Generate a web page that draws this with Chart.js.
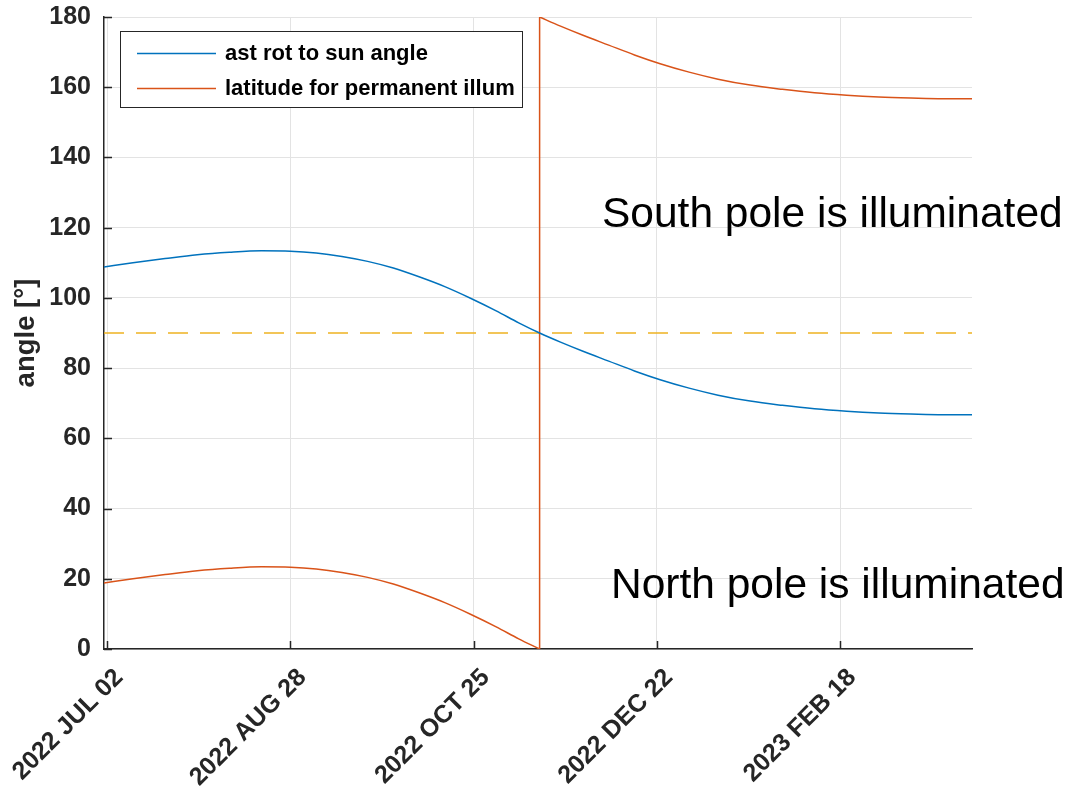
<!DOCTYPE html>
<html><head><meta charset="utf-8">
<script src="https://cdn.jsdelivr.net/npm/chart.js@4.4.0/dist/chart.umd.min.js"></script>
<style>html,body{margin:0;padding:0;background:#fff;}canvas{display:block;}</style>
</head><body>
<canvas id="c" width="1067" height="796"></canvas>
<script>
// ---- data (days since 2022 JUL 02) ----
const days = [-1, 8, 18, 28, 38, 48, 57, 65, 73, 81, 89, 97, 105, 113, 121, 128, 134.5, 134.5,
  141, 148, 156, 164, 172, 181, 190, 200, 210, 220, 230, 240, 250, 260, 269];
const astRotToSun = [108.8, 110.0, 111.2, 112.3, 113.0, 113.4, 113.3, 112.8, 111.8, 110.4, 108.5, 106.0,
  103.2, 99.9, 96.3, 92.9, 90.0, 90.0, 87.4, 84.8, 82.0, 79.2, 76.7, 74.3, 72.3, 70.6, 69.4, 68.4,
  67.7, 67.2, 66.9, 66.7, 66.7];
const latPermIllum = [18.8, 20.0, 21.2, 22.3, 23.0, 23.4, 23.3, 22.8, 21.8, 20.4, 18.5, 16.0,
  13.2, 9.9, 6.3, 2.9, 0.0, 180.0, 177.4, 174.8, 172.0, 169.2, 166.7, 164.3, 162.3, 160.6, 159.4,
  158.4, 157.7, 157.2, 156.9, 156.7, 156.7];
const jumpIndex = 16; // last point before the 0 -> 180 wrap
const refDays = [-1, 269];
const refAngle = [90, 90];
const seriesNames = ['ast rot to sun angle', 'latitude for permanent illum'];
const xTickDays = [0, 57, 114, 171, 228];
const xTickLabels = ['2022 JUL 02', '2022 AUG 28', '2022 OCT 25', '2022 DEC 22', '2023 FEB 18'];
const yTicks = [0, 20, 40, 60, 80, 100, 120, 140, 160, 180];
const annotationTexts = ['South pole is illuminated', 'North pole is illuminated'];
const annotationDays = [153.9, 156.7];
const annotationValues = [123.4, 18.0];

const FONT = "'Liberation Sans', Arial, Helvetica, sans-serif";
const AXC = '#262626';
const COLORS = ['#0072BD', '#D95319', 'rgba(237,177,32,0.75)'];

const toXY = (xs, ys) => xs.map((x, i) => ({x: x, y: ys[i]}));
const blueXY = toXY(days, astRotToSun).filter((p, i) => i !== jumpIndex + 1);
const orangeXY = toXY(days, latPermIllum);
const orangeLow = orangeXY.slice(0, jumpIndex + 1);
const orangeJump = orangeXY.slice(jumpIndex, jumpIndex + 2);
const orangeHigh = orangeXY.slice(jumpIndex + 1);

const inwardTicks = {
  id: 'inwardTicks',
  afterDatasetsDraw(chart) {
    const {ctx, chartArea: a, scales: {x, y}} = chart;
    ctx.save();
    ctx.strokeStyle = AXC; ctx.lineWidth = 1.5;
    ctx.beginPath();
    y.ticks.forEach(t => { const py = Math.round(y.getPixelForValue(t.value)) + 0.5; ctx.moveTo(a.left, py); ctx.lineTo(a.left + 8, py); });
    x.ticks.forEach(t => { const px = Math.round(x.getPixelForValue(t.value)) + 0.5; ctx.moveTo(px, a.bottom); ctx.lineTo(px, a.bottom - 8); });
    ctx.stroke();
    ctx.restore();
  }
};

const annotationsPlugin = {
  id: 'annots',
  afterDatasetsDraw(chart) {
    const {ctx, scales: {x, y}} = chart;
    ctx.save();
    ctx.font = '42.5px ' + FONT;
    ctx.fillStyle = '#000';
    ctx.textAlign = 'left';
    ctx.textBaseline = 'middle';
    annotationTexts.forEach((t, i) => ctx.fillText(t, x.getPixelForValue(annotationDays[i]), y.getPixelForValue(annotationValues[i])));
    ctx.restore();
  }
};

const legendBox = {
  id: 'legendBox',
  afterDraw(chart) {
    const {ctx} = chart;
    ctx.save();
    ctx.fillStyle = '#fff';
    ctx.fillRect(120.5, 31.5, 402, 76);
    ctx.strokeStyle = AXC; ctx.lineWidth = 1;
    ctx.strokeRect(120.5, 31.5, 402, 76);
    const rows = [53, 88];
    ctx.font = 'bold 22px ' + FONT;
    ctx.textBaseline = 'middle';
    ctx.textAlign = 'left';
    seriesNames.forEach((n, i) => {
      ctx.strokeStyle = COLORS[i]; ctx.lineWidth = 1.5;
      ctx.beginPath(); ctx.moveTo(137, rows[i] + 0.5); ctx.lineTo(216, rows[i] + 0.5); ctx.stroke();
      ctx.fillStyle = '#000';
      ctx.fillText(n, 225, rows[i] + 1);
    });
    ctx.restore();
  }
};

const noPad = s => { s.paddingLeft = 0; s.paddingRight = 0; s.paddingTop = 0; s.paddingBottom = 0; };
const lineDs = (label, data, color, extra) => Object.assign({label, data, borderColor: color, borderWidth: 1.5,
  pointRadius: 0, fill: false, cubicInterpolationMode: 'monotone'}, extra || {});

new Chart(document.getElementById('c').getContext('2d'), {
  type: 'line',
  data: {
    datasets: [
      lineDs(seriesNames[0], blueXY, COLORS[0]),
      lineDs(seriesNames[1], orangeLow, COLORS[1]),
      lineDs(seriesNames[1], orangeJump, COLORS[1], {cubicInterpolationMode: 'default', tension: 0}),
      lineDs(seriesNames[1], orangeHigh, COLORS[1]),
      lineDs('ref', toXY(refDays, refAngle), COLORS[2], {borderWidth: 2, borderDash: [20, 12], cubicInterpolationMode: 'default', tension: 0})
    ]
  },
  options: {
    responsive: false, animation: false, devicePixelRatio: 1,
    layout: {padding: {top: 17, right: 95, left: 0, bottom: 0}},
    plugins: {legend: {display: false}, tooltip: {enabled: false}},
    scales: {
      x: {
        type: 'linear', min: -1, max: 269,
        afterBuildTicks: s => { s.ticks = xTickDays.map(v => ({value: v})); },
        afterFit: s => { s.height = 147; noPad(s); },
        grid: {color: '#e3e3e3', lineWidth: 1, drawTicks: false},
        border: {color: AXC, width: 1.5},
        ticks: {autoSkip: false, minRotation: 45, maxRotation: 45, padding: 14, labelOffset: 12, color: AXC,
          font: {family: FONT, size: 25, weight: 'bold'},
          callback: (v, i) => xTickLabels[i]}
      },
      y: {
        min: 0, max: 180,
        afterBuildTicks: s => { s.ticks = yTicks.map(v => ({value: v})); },
        afterFit: s => { s.width = 104; noPad(s); },
        grid: {color: '#e3e3e3', lineWidth: 1, drawTicks: false},
        border: {color: AXC, width: 1.5},
        ticks: {padding: 13, color: AXC, font: {family: FONT, size: 25, weight: 'bold'}},
        title: {display: true, text: 'angle [°]', color: AXC, padding: {top: 10, bottom: 0},
          font: {family: FONT, size: 27.5, weight: 'bold'}}
      }
    }
  },
  plugins: [inwardTicks, annotationsPlugin, legendBox]
});
</script>
</body></html>
